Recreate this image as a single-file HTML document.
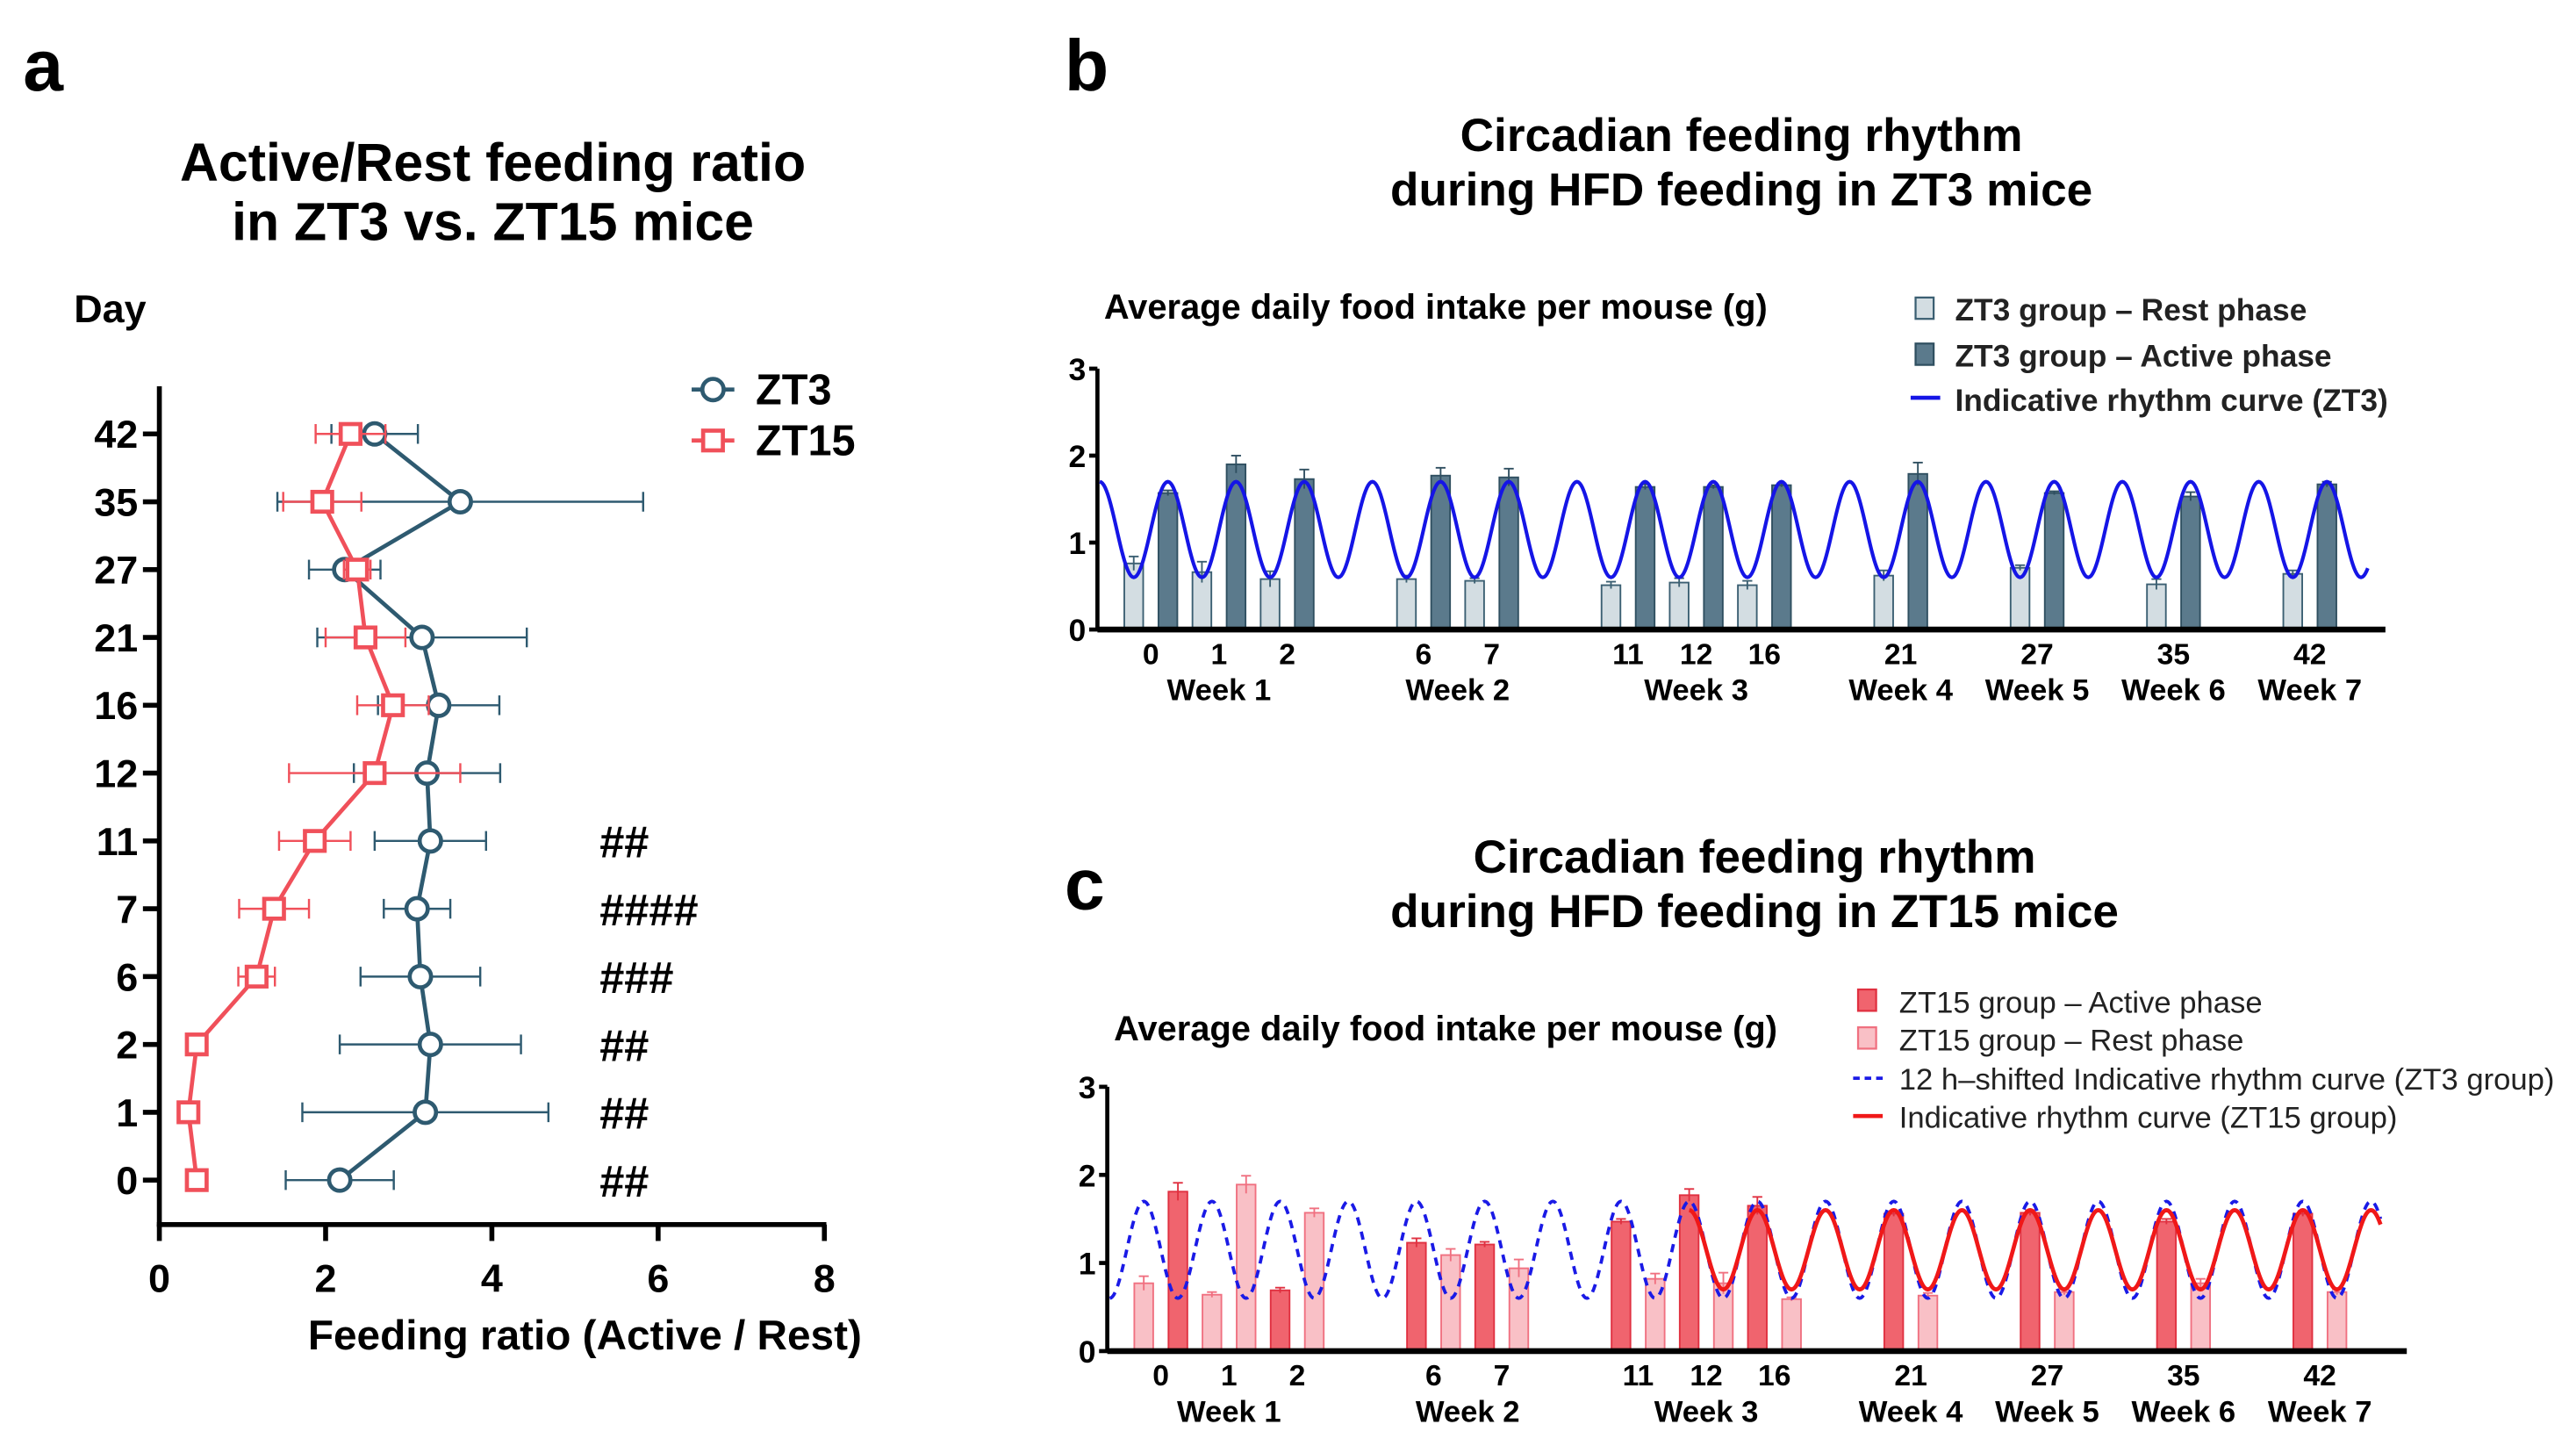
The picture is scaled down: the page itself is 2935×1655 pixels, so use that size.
<!DOCTYPE html>
<html><head><meta charset="utf-8"><style>
html,body{margin:0;padding:0;background:#fff}
svg{display:block;font-family:"Liberation Sans",Arial,sans-serif}
</style></head><body>
<svg id="fig" width="2935" height="1655" viewBox="0 0 1568 884" preserveAspectRatio="none">
<g id="pa">
<text x="14" y="55" font-size="44" font-weight="bold">a</text>
<text x="300" y="110" font-size="32.5" font-weight="bold" text-anchor="middle">Active/Rest feeding ratio</text>
<text x="300" y="146" font-size="32.5" font-weight="bold" text-anchor="middle">in ZT3 vs. ZT15 mice</text>
<text x="45" y="196" font-size="24" font-weight="bold">Day</text>
<text x="356" y="821" font-size="25.5" font-weight="bold" text-anchor="middle">Feeding ratio (Active / Rest)</text>
<g>
<line x1="421" y1="237" x2="447" y2="237" stroke="#2e5a70" stroke-width="2.5"/><circle cx="434" cy="237" r="6.5" fill="#fff" stroke="#2e5a70" stroke-width="2.5"/>
<text x="460" y="246" font-size="26" font-weight="bold">ZT3</text>
<line x1="421" y1="268" x2="447" y2="268" stroke="#f0505a" stroke-width="2.5"/><rect x="428" y="262" width="12" height="12" fill="#fff" stroke="#f0505a" stroke-width="2.5"/>
<text x="460" y="277" font-size="26" font-weight="bold">ZT15</text>
</g>
</g>
<g id="pb">
<text x="648" y="55" font-size="44" font-weight="bold">b</text>
<text x="1060" y="92" font-size="28.4" font-weight="bold" text-anchor="middle">Circadian feeding rhythm</text>
<text x="1060" y="125" font-size="28.4" font-weight="bold" text-anchor="middle">during HFD feeding in ZT3 mice</text>
<text x="672" y="194" font-size="21.3" font-weight="bold">Average daily food intake per mouse (g)</text>
<g>
<rect x="1166" y="181" width="11" height="13" fill="#d3dde2" stroke="#3b5f72" stroke-width="1.2"/>
<text x="1190" y="195" font-size="18.9" font-weight="bold" fill="#222">ZT3 group – Rest phase</text>
<rect x="1166" y="209" width="11" height="13" fill="#5b7a8c" stroke="#2f4f60" stroke-width="1.2"/>
<text x="1190" y="223" font-size="18.9" font-weight="bold" fill="#222">ZT3 group – Active phase</text>
<line x1="1163" y1="242" x2="1181" y2="242" stroke="#1515e6" stroke-width="2.5"/>
<text x="1190" y="250" font-size="18.9" font-weight="bold" fill="#222">Indicative rhythm curve (ZT3)</text>
</g>
</g>
<g id="pc">
<text x="648" y="553" font-size="44" font-weight="bold">c</text>
<text x="1068" y="531" font-size="28.4" font-weight="bold" text-anchor="middle">Circadian feeding rhythm</text>
<text x="1068" y="564" font-size="28.4" font-weight="bold" text-anchor="middle">during HFD feeding in ZT15 mice</text>
<text x="678" y="633" font-size="21.3" font-weight="bold">Average daily food intake per mouse (g)</text>
<g>
<rect x="1131" y="602" width="11" height="13" fill="#f0646e" stroke="#e03040" stroke-width="1.2"/>
<text x="1156" y="616" font-size="18.5" fill="#222">ZT15 group – Active phase</text>
<rect x="1131" y="625" width="11" height="13" fill="#f9c0c6" stroke="#f07080" stroke-width="1.2"/>
<text x="1156" y="639" font-size="18.5" fill="#222">ZT15 group – Rest phase</text>
<line x1="1128" y1="656" x2="1146" y2="656" stroke="#1a1ae6" stroke-width="2" stroke-dasharray="4,3"/>
<text x="1156" y="663" font-size="18.5" fill="#222">12 h–shifted Indicative rhythm curve (ZT3 group)</text>
<line x1="1128" y1="679" x2="1146" y2="679" stroke="#f01818" stroke-width="2.5"/>
<text x="1156" y="686" font-size="18.5" fill="#222">Indicative rhythm curve (ZT15 group)</text>
</g>
</g>
</svg>
<script>
// ---- Panel a data ----
const aDays = ["42","35","27","21","16","12","11","7","6","2","1","0"];
const aZT3 = [2.59,3.62,2.23,3.16,3.36,3.22,3.26,3.10,3.14,3.26,3.20,2.17];
const aZT3err = [0.52,2.2,0.43,1.26,0.73,0.88,0.67,0.40,0.72,1.09,1.48,0.65];
const aZT15 = [2.30,1.96,2.38,2.48,2.81,2.59,1.87,1.38,1.17,0.45,0.35,0.45];
const aZT15err = [0.42,0.47,0.16,0.48,0.43,1.03,0.43,0.42,0.22,0.05,0.05,0.05];
const aSig = ["","","","","","","##","####","###","##","##","##"];
const aXTicks = [0,2,4,6,8];
// ---- Panel b data ----
const bDays = ["0","1","2","6","7","11","12","16","21","27","35","42"];
const bSlots = [0,1,2,4,5,7,8,9,11,13,15,17];
const bRest = [0.76,0.66,0.58,0.58,0.56,0.51,0.54,0.51,0.62,0.71,0.52,0.64];
const bRestErr = [0.08,0.12,0.09,0.04,0.03,0.04,0.05,0.05,0.06,0.03,0.06,0.04];
const bActive = [1.57,1.90,1.73,1.77,1.75,1.64,1.64,1.66,1.79,1.57,1.53,1.67];
const bActiveErr = [0.03,0.10,0.11,0.09,0.10,0.03,0.02,0.02,0.13,0.02,0.05,0.03];
const weekLabels = ["Week 1","Week 2","Week 3","Week 4","Week 5","Week 6","Week 7"];
const weekSlots = [1,4.5,8,11,13,15,17];
const yTicks = [0,1,2,3];
const bCurve = [1.15,0.55]; // mean, amplitude
// ---- Panel c data ----
const cLeft = [0.77,0.64,0.69,1.23,1.21,1.47,1.77,1.65,1.56,1.57,1.47,1.56];
const cLeftErr = [0.08,0.03,0.03,0.05,0.03,0.03,0.07,0.10,0.03,0.03,0.03,0.03];
const cLeftType = ["rest","rest","active","active","active","active","active","active","active","active","active","active"];
const cRight = [1.81,1.89,1.57,1.09,0.94,0.82,0.77,0.59,0.63,0.67,0.77,0.67];
const cRightErr = [0.10,0.10,0.05,0.07,0.10,0.06,0.12,0.02,0.03,0.03,0.05,0.03];
const cRightType = ["active","rest","rest","rest","rest","rest","rest","rest","rest","rest","rest","rest"];
const cShifted = [1.15,0.55];
const cZT15Curve = [1.15,0.45];
const cZT15Start = 7.75;

const NS="http://www.w3.org/2000/svg";
function mk(tag,attrs,parent,txt){const e=document.createElementNS(NS,tag);for(const k in attrs)e.setAttribute(k,attrs[k]);if(txt!==undefined)e.textContent=txt;parent.appendChild(e);return e;}

// ===== Panel a =====
const pa=document.getElementById('pa');
const xA=v=>97+v*50.6;
const yA=i=>264+i*41.27;
let e;
e=mk('line',{x1:97,y1:235,x2:97,y2:746,stroke:'#000','stroke-width':3},pa);


e=mk('line',{x1:95.5,y1:745,x2:503,y2:745,stroke:'#000','stroke-width':3},pa);


aXTicks.forEach(t=>{
  mk('line',{x1:xA(t),y1:745,x2:xA(t),y2:755,stroke:'#000','stroke-width':3},pa);
  e=mk('text',{x:xA(t),y:786,'font-size':24,'font-weight':'bold','text-anchor':'middle'},pa,String(t));
  
  
});
aDays.forEach((d,i)=>{
  mk('line',{x1:87,y1:yA(i),x2:97,y2:yA(i),stroke:'#000','stroke-width':3},pa);
  e=mk('text',{x:84,y:yA(i)+8.5,'font-size':24,'font-weight':'bold','text-anchor':'end'},pa,d);
  
  
  if(aSig[i]){
    e=mk('text',{x:365,y:yA(i)+10,'font-size':27,'font-weight':'bold'},pa,aSig[i]);
    
    
  }
});
function seriesA(vals,errs,col,marker,name){
  const g=mk('g',{},pa);
  
  
  vals.forEach((v,i)=>{
    const y=yA(i),x1=xA(v-errs[i]),x2=xA(v+errs[i]);
    mk('line',{x1:x1,y1:y,x2:x2,y2:y,stroke:col,'stroke-width':1.3},g);
    mk('line',{x1:x1,y1:y-6,x2:x1,y2:y+6,stroke:col,'stroke-width':1.3},g);
    mk('line',{x1:x2,y1:y-6,x2:x2,y2:y+6,stroke:col,'stroke-width':1.3},g);
  });
  mk('polyline',{points:vals.map((v,i)=>xA(v)+','+yA(i)).join(' '),fill:'none',stroke:col,'stroke-width':2.5},g);
  vals.forEach((v,i)=>{
    let m;
    if(marker==='c') m=mk('circle',{cx:xA(v),cy:yA(i),r:6.5,fill:'#fff',stroke:col,'stroke-width':2.5},g);
    else m=mk('rect',{x:xA(v)-6,y:yA(i)-6,width:12,height:12,fill:'#fff',stroke:col,'stroke-width':2.5},g);
    
    
  });
}
seriesA(aZT3,aZT3err,'#2e5a70','c','series-zt3');
seriesA(aZT15,aZT15err,'#f0505a','s','series-zt15');

// ===== Bar panels =====
function barPanel(p,axX,x0,xEnd,y0,unit,s0,step,labY,wkY){
  const y=v=>y0-unit*v, sx=s=>s0+step*s;
  e=mk('line',{x1:axX,y1:y(3),x2:axX,y2:y0+1,stroke:'#000','stroke-width':2.5},p);
  
  
  yTicks.forEach(t=>{
    mk('line',{x1:axX-5,y1:y(t),x2:axX,y2:y(t),stroke:'#000','stroke-width':2.5},p);
    e=mk('text',{x:axX-7,y:y(t)+7,'font-size':19,'font-weight':'bold','text-anchor':'end'},p,String(t));
    
    
  });
  bDays.forEach((d,i)=>{
    e=mk('text',{x:sx(bSlots[i]),y:labY,'font-size':18,'font-weight':'bold','text-anchor':'middle'},p,d);
    
    
  });
  weekLabels.forEach((w,i)=>{
    e=mk('text',{x:sx(weekSlots[i]),y:wkY,'font-size':18.5,'font-weight':'bold','text-anchor':'middle'},p,w);
    
    
  });
  return {y,sx,axis:()=>{e=mk('line',{x1:axX,y1:y0,x2:xEnd,y2:y0,stroke:'#000','stroke-width':3.5},p);
    
    }};
}
function bar(p,cx,v,err,y,fill,stroke,name){
  const w=11.5;
  const r=mk('rect',{x:cx-w/2,y:y(v),width:w,height:y(0)-y(v),fill:fill,stroke:stroke,'stroke-width':1},p);
  
  
  mk('line',{x1:cx,y1:y(v+err),x2:cx,y2:y(v-err),stroke:stroke,'stroke-width':1},p);
  mk('line',{x1:cx-3,y1:y(v+err),x2:cx+3,y2:y(v+err),stroke:stroke,'stroke-width':1},p);
}
function curve(p,sx,y,params,sStart,sEnd,phase,col,dash,w,name){
  const pts=[];
  for(let s=sStart;s<=sEnd+1e-9;s+=0.02){pts.push(sx(s).toFixed(2)+','+y(params[0]+params[1]*Math.cos(2*Math.PI*(s-phase))).toFixed(2));}
  const pl=mk('polyline',{points:pts.join(' '),fill:'none',stroke:col,'stroke-width':w},p);
  if(dash) pl.setAttribute('stroke-dasharray',dash);
  
  
}
// Panel b
const pb=document.getElementById('pb');
const B=barPanel(pb,668,668,1452,383,52.9,700.5,41.5,404,426);
bSlots.forEach((s,i)=>{
  bar(pb,B.sx(s)-10.4,bRest[i],bRestErr[i],B.y,'#d3dde2','#3b5f72','bar-rest-day'+bDays[i]);
  bar(pb,B.sx(s)+10.4,bActive[i],bActiveErr[i],B.y,'#5b7a8c','#2f4f60','bar-active-day'+bDays[i]);
});
curve(pb,B.sx,B.y,bCurve,-0.75,17.85,0.25,'#1515e6',null,2.2,'rhythm-curve-zt3');
B.axis();
// Panel c
const pc=document.getElementById('pc');
const C=barPanel(pc,674,674,1465,822,53.6,706.6,41.5,843,865);
const colors={active:['#f0646e','#e03040'],rest:['#f9c0c6','#f07080']};
bSlots.forEach((s,i)=>{
  bar(pc,C.sx(s)-10.4,cLeft[i],cLeftErr[i],C.y,colors[cLeftType[i]][0],colors[cLeftType[i]][1],'bar-left-day'+bDays[i]);
  bar(pc,C.sx(s)+10.4,cRight[i],cRightErr[i],C.y,colors[cRightType[i]][0],colors[cRightType[i]][1],'bar-right-day'+bDays[i]);
});
curve(pc,C.sx,C.y,cShifted,-0.75,17.9,-0.25,'#1a1ae6','5,4',2,'shifted-rhythm-curve');
curve(pc,C.sx,C.y,cZT15Curve,cZT15Start,17.9,-0.25,'#f01818',null,2.5,'rhythm-curve-zt15');
C.axis();
</script>
</body></html>
